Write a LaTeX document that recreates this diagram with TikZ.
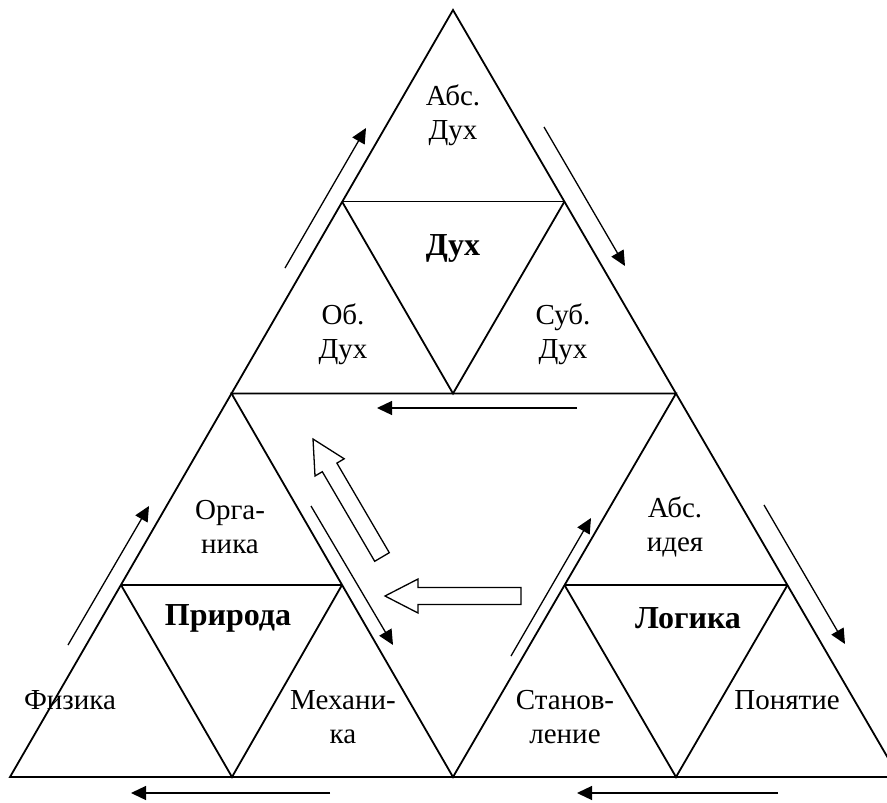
\documentclass[tikz,border=0pt]{standalone}
\usepackage{fontspec}
\setmainfont{Liberation Serif}
\usetikzlibrary{arrows.meta}
\begin{document}
\begin{tikzpicture}[x=1pt,y=-1pt,
  edge/.style={line width=1.8pt, line join=miter},
  flow/.style={line width=1.3pt, -{Triangle[length=15pt,width=14pt]}},
  hollow/.style={line width=1.3pt, fill=white, line join=miter},
  lbl/.style={font=\fontsize{29}{34}\selectfont, align=center, inner sep=0pt},
  big/.style={font=\fontsize{32}{37}\selectfont\bfseries, inner sep=0pt}]
\useasboundingbox (0,0) rectangle (887,803);
\clip (0,0) rectangle (887,803);
% corners
\coordinate (A) at (453,10);
\coordinate (L) at (10,777);
\coordinate (R) at (899,777);
\coordinate (ML) at (231.5,393.5);
\coordinate (MR) at (676,393.5);
\coordinate (BM) at (453,777);
% top sub-triangle midpoints
\coordinate (t1) at (342,201.5);
\coordinate (t2) at (564.5,201.5);
\coordinate (t3) at (453,393.5);
% left sub-triangle midpoints
\coordinate (l1) at (121,585);
\coordinate (l2) at (342,585);
\coordinate (l3) at (232,777);
% right sub-triangle midpoints
\coordinate (r1) at (564.5,585);
\coordinate (r2) at (787.5,585);
\coordinate (r3) at (676,777);
% triangles
\draw[edge] (A) -- (L) -- (R) -- cycle;
\draw[edge] (ML) -- (MR) -- (BM) -- cycle;
\draw[edge] (t1) -- (t2);
\draw[edge] (t1) -- (t3) -- (t2);
\draw[edge] (l1) -- (l2);
\draw[edge] (l1) -- (l3) -- (l2);
\draw[edge] (r1) -- (r2);
\draw[edge] (r1) -- (r3) -- (r2);
% labels
\node[lbl] (absdux) at (453,115) {Абс.\\Дух};
\node[big] (dux) at (453,248) {Дух};
\node[lbl] (obdux) at (343,334) {Об.\\Дух};
\node[lbl] (subdux) at (563,334) {Суб.\\Дух};
\node[lbl] (organ) at (230,527) {Орга-\\ника};
\node[big] (prir) at (228,618) {Природа};
\node[lbl] (fiz) at (70,700) {Физика};
\node[lbl] (mex) at (343,717) {Механи-\\ка};
\node[lbl] (absid) at (675,527) {Абс.\\идея};
\node[big] (log) at (688,618) {Логика};
\node[lbl] (stan) at (565,717) {Станов-\\ление};
\node[lbl] (pon) at (787,700) {Понятие};
% flow arrows
\coordinate (a1s) at (285,268); \coordinate (a1e) at (366,128);
\coordinate (a2s) at (544,127); \coordinate (a2e) at (625,266);
\coordinate (a3s) at (577,408); \coordinate (a3e) at (377,408);
\coordinate (a4s) at (330,793); \coordinate (a4e) at (131,793);
\coordinate (a5s) at (778,793); \coordinate (a5e) at (577,793);
\coordinate (a6s) at (68,645);  \coordinate (a6e) at (149,506);
\coordinate (a7s) at (311,506); \coordinate (a7e) at (393,645);
\coordinate (a8s) at (511,656); \coordinate (a8e) at (591,518);
\coordinate (a9s) at (764,505); \coordinate (a9e) at (845,644);
\draw[flow] (a1s) -- (a1e);
\draw[flow] (a2s) -- (a2e);
\draw[flow] (a3s) -- (a3e);
\draw[flow] (a4s) -- (a4e);
\draw[flow] (a5s) -- (a5e);
\draw[flow] (a6s) -- (a6e);
\draw[flow] (a7s) -- (a7e);
\draw[flow] (a8s) -- (a8e);
\draw[flow] (a9s) -- (a9e);
% hollow arrows
\draw[hollow] (385,596) -- (418,579) -- (418,587.5) -- (521,587.5) -- (521,604.5) -- (418,604.5) -- (418,613) -- cycle;
\draw[hollow] (313,439) -- (344.2,458.8) -- (336.9,463.1) -- (389.3,552.7) -- (374.7,561.3) -- (322.3,471.7) -- (315.0,476.0) -- cycle;
\end{tikzpicture}
\end{document}
